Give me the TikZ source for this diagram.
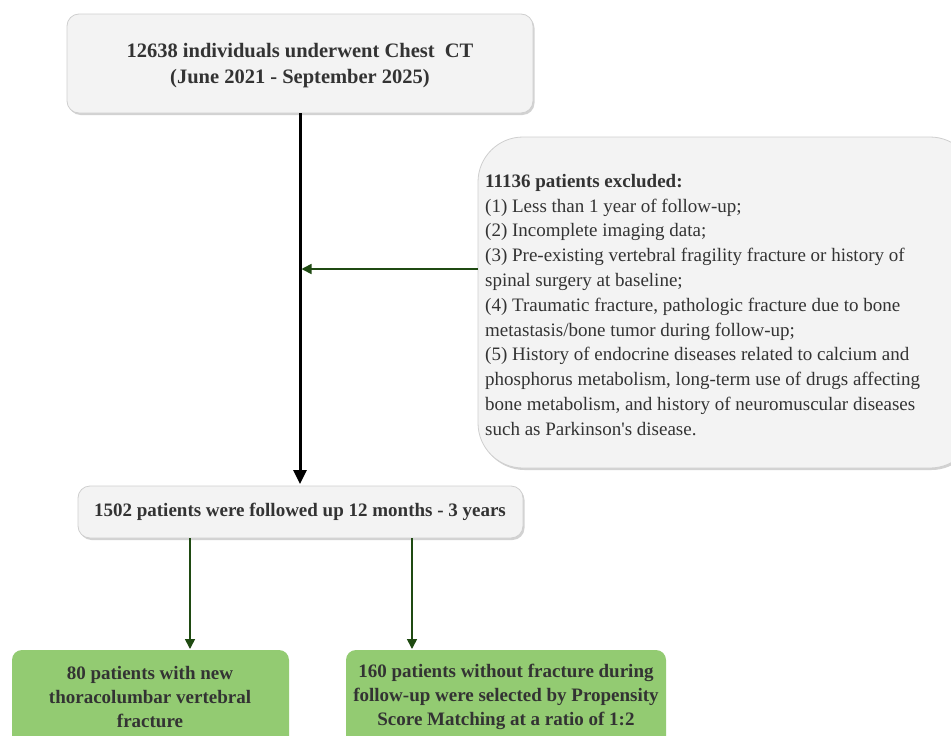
\documentclass[tikz,border=0pt]{standalone}
\usepackage{fontspec}
\setmainfont{Liberation Serif}
\usetikzlibrary{shadows,arrows.meta}
\definecolor{boxgray}{HTML}{F3F3F3}
\definecolor{boxline}{HTML}{CFCFCF}
\definecolor{greenfill}{HTML}{93CB72}
\definecolor{darkgreen}{HTML}{1F4A12}
\definecolor{txt}{HTML}{333333}
\tikzset{
  graybox/.style={draw=boxline, fill=boxgray, line width=0.8pt, rounded corners=12pt,
     drop shadow={shadow xshift=1.5pt, shadow yshift=-2pt, opacity=0.35, fill=gray}},
  greenbox/.style={draw=none, fill=greenfill, rounded corners=10pt},
  btext/.style={font=\fontsize{19}{24}\selectfont\bfseries, text=txt, align=center},
  gline/.style={draw=darkgreen, line width=1.6pt, -{Triangle[length=10pt,width=10pt]}},
  bline/.style={draw=black, line width=3pt, -{Triangle[length=14pt,width=13pt]}}
}
\begin{document}
\begin{tikzpicture}[x=1pt,y=-1pt]
\useasboundingbox (0,0) rectangle (951,736);
\clip (0,0) rectangle (951,736);
\fill[white] (0,0) rectangle (951,736);
% top box
\path[graybox] (67,14) rectangle (533,113);
\node[btext, font=\fontsize{20.5}{26}\selectfont\bfseries] (top) at (300,66) {12638 individuals underwent Chest\ \ CT\\(June 2021 - September 2025)};
% exclusion box
\path[graybox, rounded corners=45pt] (478,137) rectangle (975,468);
\node[anchor=north west, inner sep=0pt, text=txt, align=left,
      font=\fontsize{19}{24.8}\selectfont] (excl) at (485,174) {%
\textbf{11136 patients excluded:}\\
(1) Less than 1 year of follow-up;\\
(2) Incomplete imaging data;\\
(3) Pre-existing vertebral fragility fracture or history of\\
spinal surgery at baseline;\\
(4) Traumatic fracture, pathologic fracture due to bone\\
metastasis/bone tumor during follow-up;\\
(5) History of endocrine diseases related to calcium and\\
phosphorus metabolism, long-term use of drugs affecting\\
bone metabolism, and history of neuromuscular diseases\\
such as Parkinson\textquotesingle s disease.};
% middle box
\path[graybox] (78,486) rectangle (523,538);
\node[btext] (mid) at (300,512) {1502 patients were followed up 12 months - 3 years};
% green boxes
\path[greenbox] (12,650) rectangle (289,750);
\node[btext] (left) at (150,697) {80 patients with new\\thoracolumbar vertebral\\fracture};
\path[greenbox] (346,650) rectangle (666,750);
\node[btext] (right) at (506,697) {160 patients without fracture during\\follow-up were selected by Propensity\\Score Matching at a ratio of 1:2};
% coordinates
\coordinate (a1) at (300,113);
\coordinate (a2) at (300,484);
\coordinate (e1) at (478,269);
\coordinate (e2) at (301.5,269);
\coordinate (l1) at (190,538);
\coordinate (l2) at (190,649);
\coordinate (r1) at (412,538);
\coordinate (r2) at (412,649);
\draw[bline] (a1) -- (a2);
\draw[gline] (e1) -- (e2);
\draw[gline] (l1) -- (l2);
\draw[gline] (r1) -- (r2);
\end{tikzpicture}
\end{document}
